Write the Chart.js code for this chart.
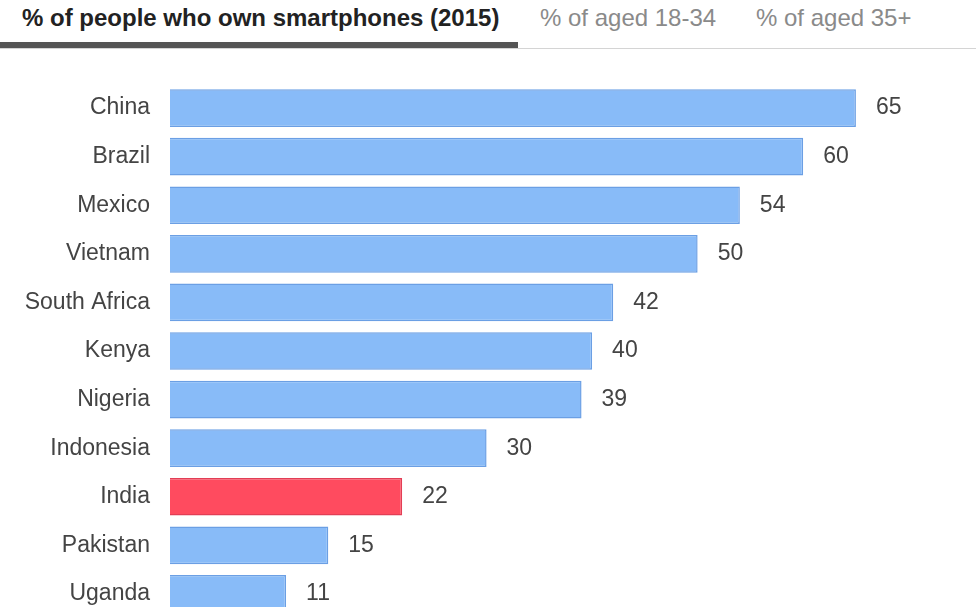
<!DOCTYPE html>
<html>
<head>
<meta charset="utf-8">
<script src="https://cdn.jsdelivr.net/npm/chart.js@4"></script>
<style>
    html, body { margin: 0; padding: 0; background: #fff; overflow: hidden; width: 976px; height: 607px; }
    body { position: relative; font-family: "Liberation Sans", Arial, sans-serif; }
    .tabs { position: absolute; left: 0; top: 0; width: 976px; height: 48px; border-bottom: 1px solid #d4d4d4; }
    .tab { position: absolute; top: 4px; font-size: 24px; line-height: 28px; color: #8a8a8a; white-space: nowrap; }
    .tab.active { color: #222; font-weight: bold; }
    .tab-bar { position: absolute; left: 0; top: 42px; width: 518px; height: 6px; background: #555; }
    #chart { position: absolute; left: 0; top: 50px; }
</style>
</head>
<body>
<div class="tabs">
    <div class="tab active" style="left: 22px;">% of people who own smartphones (2015)</div>
    <div class="tab" style="left: 540px;">% of aged 18-34</div>
    <div class="tab" style="left: 756px;">% of aged 35+</div>
    <div class="tab-bar"></div>
</div>
<canvas id="chart" width="976" height="602"></canvas>
<script>
// Data
const countries = ['China', 'Brazil', 'Mexico', 'Vietnam', 'South Africa', 'Kenya', 'Nigeria', 'Indonesia', 'India', 'Pakistan', 'Uganda'];
const ownSmartphone = [65, 60, 54, 50, 42, 40, 39, 30, 22, 15, 11];
const highlighted = 'India';

const fillColors = countries.map(c => c === highlighted ? '#ff4b5f' : '#88bbf8');
const borderColors = countries.map(c => c === highlighted ? '#e23e55' : '#6b9fe4');

// draws the number to the right of each bar
const valueLabels = {
    id: 'valueLabels',
    afterDatasetsDraw(chart) {
        const ctx = chart.ctx;
        const meta = chart.getDatasetMeta(0);
        ctx.save();
        ctx.font = '23px "Liberation Sans", Arial, sans-serif';
        ctx.fillStyle = '#444';
        ctx.textAlign = 'left';
        ctx.textBaseline = 'middle';
        meta.data.forEach((bar, i) => {
            ctx.fillText(String(chart.data.datasets[0].data[i]), bar.x + 20, bar.y);
        });
        ctx.restore();
    }
};

new Chart(document.getElementById('chart').getContext('2d'), {
    type: 'bar',
    data: {
        labels: countries,
        datasets: [{
            data: ownSmartphone,
            backgroundColor: fillColors,
            borderColor: borderColors,
            borderWidth: 1.5,
            barPercentage: 0.9,
            categoryPercentage: 0.86
        }]
    },
    options: {
        indexAxis: 'y',
        responsive: false,
        animation: false,
        layout: { padding: { left: 0, right: 4, top: 0, bottom: 0 } },
        plugins: {
            legend: { display: false },
            tooltip: { enabled: false }
        },
        scales: {
            x: {
                display: false,
                min: 0,
                max: 76
            },
            y: {
                grid: { display: false, drawTicks: false },
                border: { display: false },
                ticks: {
                    color: '#444',
                    padding: 20,
                    font: { family: '"Liberation Sans", Arial, sans-serif', size: 23 }
                },
                afterFit(scale) { scale.width = 170; }
            }
        }
    },
    plugins: [valueLabels]
});
</script>
</body>
</html>
